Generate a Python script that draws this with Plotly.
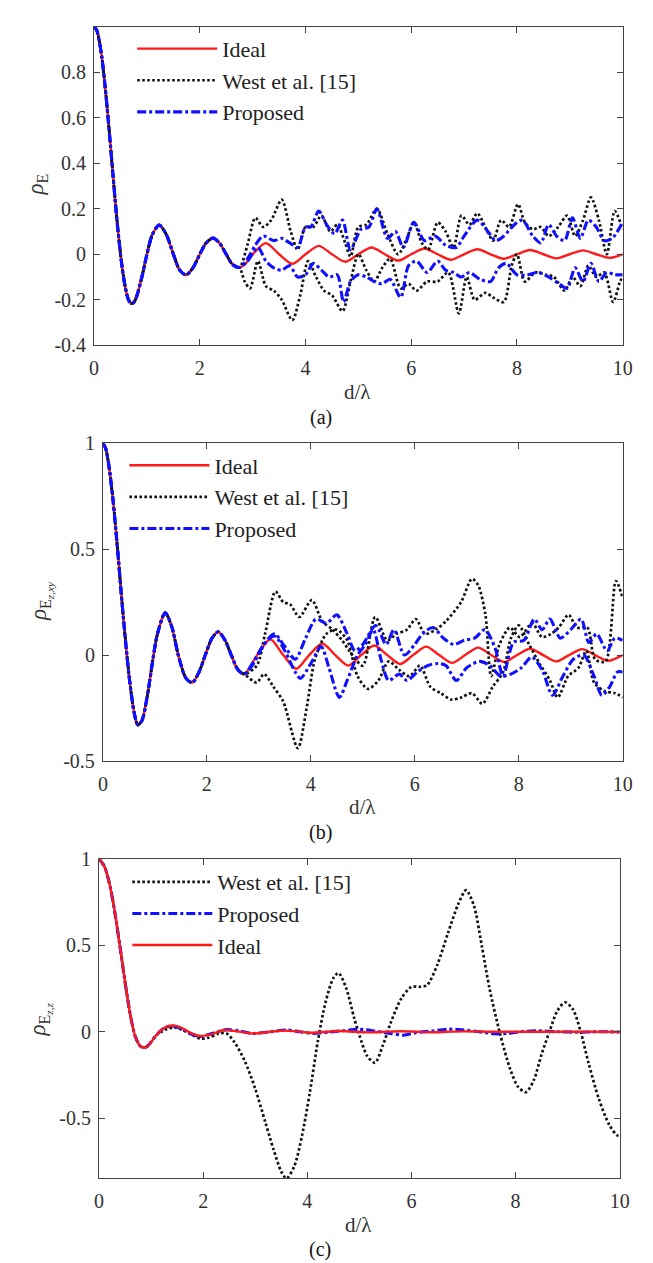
import plotly.graph_objects as go

# ---------------- Panel (a): rho_E ----------------
a_base_d = [0, 0.05, 0.1, 0.15, 0.2, 0.25, 0.3, 0.35, 0.4, 0.45, 0.5, 0.55, 0.6, 0.65, 0.7, 0.75, 0.8, 0.9,
            1.0, 1.1, 1.23, 1.36, 1.5, 1.62, 1.74, 1.87, 2.0, 2.12, 2.25, 2.37, 2.5, 2.62, 2.75]
a_base_r = [1.0, 0.985, 0.935, 0.86, 0.757, 0.637, 0.505, 0.368, 0.234, 0.109, 0.0, -0.09, -0.156, -0.2, -0.216,
            -0.212, -0.189, -0.104, 0.0, 0.085, 0.128, 0.09, 0.0, -0.07, -0.091, -0.06, 0.0, 0.05, 0.071, 0.05,
            0.0, -0.045, -0.058]

a_ideal_d = [2.87, 3.0, 3.25, 3.5, 3.75, 4.0, 4.25, 4.5, 4.75, 5.0, 5.25, 5.5, 5.75, 6.0, 6.25, 6.5, 6.75, 7.0,
             7.25, 7.5, 7.75, 8.0, 8.25, 8.5, 8.75, 9.0, 9.25, 9.5, 9.75, 10.0]
a_ideal_r = [-0.04, 0.0, 0.049, 0.0, -0.042, 0.0, 0.037, 0.0, -0.033, 0.0, 0.03, 0.0, -0.028, 0.0, 0.025, 0.0,
             -0.024, 0.0, 0.022, 0.0, -0.02, 0.0, 0.019, 0.0, -0.018, 0.0, 0.017, 0.0, -0.016, 0.0]

a_west1_d = [2.9, 3.05, 3.2, 3.35, 3.55, 3.72, 3.85, 4.0, 4.15, 4.3, 4.47, 4.6, 4.75, 4.85, 5.0, 5.15, 5.35, 5.55,
             5.75, 5.9, 6.05, 6.2, 6.32, 6.5, 6.65, 6.8, 6.95, 7.1, 7.25, 7.4, 7.55, 7.7, 7.85, 8.02, 8.15, 8.3,
             8.45, 8.6, 8.78, 8.95, 9.1, 9.25, 9.4, 9.55, 9.7, 9.85, 10.0]
a_west1_r = [0.04, 0.16, 0.12, 0.15, 0.24, 0.1, 0.02, 0.12, 0.12, 0.17, 0.1, 0.13, 0.05, -0.01, 0.12, 0.13, 0.2,
             0.09, 0.0, 0.06, 0.14, 0.05, 0.02, 0.14, 0.1, 0.03, 0.17, 0.13, 0.18, 0.12, 0.06, 0.15, 0.12, 0.22,
             0.14, 0.11, 0.12, 0.08, 0.12, 0.17, 0.08, 0.15, 0.25, 0.15, 0.0, 0.19, 0.11]

a_west2_d = [2.85, 2.95, 3.1, 3.25, 3.4, 3.55, 3.75, 3.9, 4.05, 4.2, 4.35, 4.5, 4.7, 4.85, 5.0, 5.15, 5.3, 5.45,
             5.6, 5.8, 5.95, 6.1, 6.3, 6.5, 6.7, 6.9, 7.05, 7.2, 7.4, 7.55, 7.75, 7.9, 8.0, 8.15, 8.35, 8.55,
             8.7, 8.9, 9.05, 9.2, 9.35, 9.5, 9.65, 9.82, 9.95, 10.0]
a_west2_r = [-0.12, -0.15, -0.03, -0.14, -0.16, -0.2, -0.29, -0.18, -0.03, -0.1, -0.16, -0.18, -0.25, -0.12,
             0.0, -0.07, -0.12, -0.06, -0.02, -0.15, -0.13, -0.16, -0.12, -0.12, -0.08, -0.26, -0.1, -0.2,
             -0.17, -0.19, -0.21, -0.05, 0.0, -0.12, -0.08, -0.09, -0.1, -0.16, -0.1, -0.14, -0.05, -0.1,
             -0.08, -0.21, -0.12, -0.1]

a_prop1_d = [2.9, 3.05, 3.2, 3.4, 3.55, 3.7, 3.85, 4.0, 4.1, 4.25, 4.4, 4.55, 4.7, 4.85, 5.05, 5.2, 5.35, 5.55,
             5.7, 5.85, 6.05, 6.25, 6.45, 6.65, 6.85, 7.0, 7.25, 7.45, 7.6, 7.75, 7.95, 8.1, 8.3, 8.45, 8.6,
             8.75, 8.9, 9.05, 9.2, 9.35, 9.5, 9.65, 9.8, 10.0]
a_prop1_r = [-0.02, 0.04, 0.08, 0.06, 0.07, 0.05, 0.03, 0.12, 0.12, 0.19, 0.13, 0.09, 0.15, 0.02, 0.11, 0.12,
             0.2, 0.07, 0.1, 0.03, 0.14, 0.06, 0.08, 0.04, 0.03, 0.08, 0.15, 0.1, 0.06, 0.08, 0.13, 0.15, 0.08,
             0.05, 0.13, 0.08, 0.06, 0.16, 0.07, 0.15, 0.12, 0.06, 0.07, 0.14]

a_prop2_d = [2.9, 3.1, 3.25, 3.4, 3.55, 3.7, 3.85, 4.0, 4.15, 4.3, 4.45, 4.6, 4.72, 4.85, 5.0, 5.15, 5.3, 5.45,
             5.6, 5.8, 5.95, 6.1, 6.3, 6.5, 6.65, 6.8, 6.95, 7.1, 7.3, 7.5, 7.65, 7.8, 8.0, 8.2, 8.4, 8.6, 8.8,
             8.95, 9.1, 9.25, 9.4, 9.55, 9.7, 9.85, 10.0]
a_prop2_r = [-0.03, 0.03, -0.03, -0.06, -0.07, -0.05, -0.1, -0.09, -0.04, -0.07, -0.1, -0.09, -0.21, -0.12,
             -0.09, -0.1, -0.12, -0.13, -0.11, -0.19, -0.05, -0.03, -0.08, -0.03, -0.07, -0.08, -0.1, -0.08,
             -0.11, -0.12, -0.06, -0.04, -0.09, -0.09, -0.08, -0.1, -0.13, -0.15, -0.06, -0.12, -0.04, -0.12,
             -0.08, -0.09, -0.09]

# ---------------- Panel (b): rho_{E_z,xy} ----------------
b_base_d = [0, 0.05, 0.1, 0.15, 0.2, 0.25, 0.3, 0.35, 0.4, 0.45, 0.5, 0.55, 0.6, 0.67, 0.75, 0.85, 0.95, 1.05,
            1.2, 1.33, 1.45, 1.6, 1.72, 1.85, 1.97, 2.1, 2.22, 2.35, 2.47, 2.6, 2.72]
b_base_r = [1.0, 0.98, 0.92, 0.83, 0.72, 0.59, 0.45, 0.3, 0.16, 0.03, -0.09, -0.19, -0.27, -0.33, -0.31, -0.2,
            -0.04, 0.1, 0.2, 0.13, 0.0, -0.11, -0.13, -0.08, 0.0, 0.08, 0.11, 0.07, 0.0, -0.07, -0.09]

b_ideal_d = [2.97, 3.22, 3.47, 3.72, 3.97, 4.22, 4.47, 4.72, 4.97, 5.22, 5.47, 5.72, 5.97, 6.22, 6.47, 6.72,
             6.97, 7.22, 7.47, 7.72, 7.97, 8.22, 8.47, 8.72, 8.97, 9.22, 9.47, 9.72, 10.0]
b_ideal_r = [0.0, 0.075, 0.0, -0.065, 0.0, 0.055, 0.0, -0.05, 0.0, 0.045, 0.0, -0.042, 0.0, 0.04, 0.0, -0.037,
             0.0, 0.035, 0.0, -0.033, 0.0, 0.03, 0.0, -0.03, 0.0, 0.028, 0.0, -0.027, 0.0]

b_west1_d = [2.96, 3.12, 3.32, 3.47, 3.6, 3.78, 4.02, 4.22, 4.42, 4.6, 4.8, 5.0, 5.24, 5.47, 5.65, 5.85, 6.02,
             6.2, 6.4, 6.6, 6.89, 7.1, 7.22, 7.36, 7.47, 7.63, 7.83, 8.02, 8.26, 8.45, 8.62, 8.77, 8.96, 9.12,
             9.32, 9.47, 9.67, 9.87, 10.0]
b_west1_r = [-0.05, 0.1, 0.3, 0.25, 0.24, 0.18, 0.26, 0.16, 0.12, 0.07, 0.0, -0.05, 0.18, 0.07, 0.1, 0.12, 0.17,
             0.1, 0.12, 0.16, 0.25, 0.36, 0.33, 0.19, -0.1, 0.05, 0.13, 0.085, 0.15, 0.085, 0.1, 0.13, 0.19,
             0.13, 0.13, -0.02, -0.03, 0.35, 0.27]

b_west2_d = [2.96, 3.1, 3.28, 3.47, 3.75, 3.92, 4.08, 4.3, 4.5, 4.7, 4.9, 5.1, 5.3, 5.5, 5.7, 5.9, 6.1, 6.3, 6.5,
             6.7, 6.9, 7.1, 7.3, 7.5, 7.7, 7.85, 8.0, 8.2, 8.4, 8.6, 8.75, 8.95, 9.15, 9.3, 9.45, 9.65, 9.85,
             10.0]
b_west2_r = [-0.13, -0.09, -0.15, -0.22, -0.44, -0.25, -0.02, 0.1, 0.12, 0.07, -0.1, -0.16, -0.12, -0.03,
             -0.07, -0.1, -0.05, -0.15, -0.18, -0.21, -0.2, -0.18, -0.23, -0.15, -0.08, 0.08, 0.14, 0.05, -0.04,
             -0.12, -0.2, -0.1, -0.06, 0.02, -0.13, -0.17, -0.18, -0.2]

b_prop1_d = [2.9, 3.1, 3.3, 3.5, 3.7, 3.9, 4.1, 4.3, 4.5, 4.7, 4.85, 5.0, 5.25, 5.45, 5.6, 5.8, 6.0, 6.15, 6.35,
             6.55, 6.75, 6.95, 7.15, 7.35, 7.55, 7.7, 7.9, 8.1, 8.3, 8.45, 8.6, 8.8, 9.0, 9.2, 9.35, 9.5, 9.7,
             9.85, 10.0]
b_prop1_r = [-0.04, 0.05, 0.1, 0.04, -0.02, 0.08, 0.17, 0.15, 0.19, 0.1, 0.02, 0.05, 0.14, 0.05, 0.12, 0.0,
             0.05, 0.1, 0.13, 0.08, 0.05, 0.07, 0.08, 0.12, 0.03, -0.1, 0.06, 0.07, 0.17, 0.12, 0.17, 0.08,
             0.12, 0.17, 0.06, 0.1, 0.02, 0.08, 0.07]

b_prop2_d = [2.9, 3.1, 3.3, 3.5, 3.7, 3.8, 4.0, 4.2, 4.35, 4.55, 4.7, 4.9, 5.05, 5.2, 5.35, 5.5, 5.7, 5.85, 6.05,
             6.25, 6.45, 6.6, 6.8, 7.0, 7.25, 7.45, 7.65, 7.85, 8.05, 8.25, 8.45, 8.65, 8.85, 9.05, 9.25, 9.45,
             9.6, 9.75, 9.9, 10.0]
b_prop2_r = [-0.03, 0.05, 0.09, 0.02, -0.08, -0.11, -0.04, 0.04, -0.06, -0.2, -0.12, 0.0, 0.05, 0.12, -0.02,
             -0.12, -0.09, -0.12, -0.08, -0.05, -0.04, -0.05, -0.12, -0.06, -0.03, -0.05, -0.1, -0.09, -0.06,
             -0.01, -0.07, -0.19, -0.1, -0.02, 0.0, -0.1, -0.19, -0.15, -0.08, -0.08]

# ---------------- Panel (c): rho_{E_z,z} ----------------
c_base_d = [0, 0.1, 0.2, 0.3, 0.4, 0.5, 0.6, 0.7, 0.8, 0.9, 1.0, 1.1]
c_base_r = [1.0, 0.96, 0.86, 0.7, 0.5, 0.29, 0.1, -0.03, -0.085, -0.09, -0.06, -0.02]

c_ideal_d = [1.2, 1.3, 1.45, 1.6, 1.75, 1.95, 2.15, 2.4, 2.65, 2.95, 3.25, 3.5, 3.8, 4.05, 4.3, 4.6, 4.9, 5.2,
             5.5, 5.8, 6.1, 6.4, 6.7, 7.0, 7.5, 8.0, 8.5, 9.0, 9.5, 10.0]
c_ideal_r = [0.01, 0.03, 0.035, 0.02, -0.005, -0.025, -0.015, 0.01, 0.002, -0.01, -0.002, 0.006, 0.002, -0.006,
             -0.002, 0.004, 0.0, -0.004, 0.0, 0.003, 0.0, -0.003, 0.0, 0.002, 0.0, 0.0, 0.0, 0.0, 0.0, -0.002]

c_prop_d = [1.2, 1.3, 1.45, 1.6, 1.75, 1.95, 2.15, 2.45, 2.7, 2.95, 3.3, 3.6, 3.85, 4.1, 4.4, 4.7, 5.0, 5.3,
            5.6, 5.85, 6.1, 6.4, 6.7, 7.0, 7.3, 7.6, 7.85, 8.1, 8.4, 8.8, 9.2, 9.6, 10.0]
c_prop_r = [0.01, 0.028, 0.032, 0.015, -0.01, -0.028, -0.012, 0.012, 0.004, -0.01, 0.0, 0.01, 0.0, -0.01,
            -0.002, 0.006, 0.014, 0.004, -0.01, -0.02, -0.005, 0.004, 0.015, 0.01, 0.0, -0.012, -0.01, 0.0,
            0.005, 0.0, -0.003, 0.0, -0.002]

c_west_d = [1.2, 1.3, 1.45, 1.6, 1.8, 1.95, 2.1, 2.3, 2.45, 2.6, 2.8, 3.0, 3.2, 3.35, 3.5, 3.6, 3.75, 3.9,
            4.05, 4.2, 4.35, 4.5, 4.6, 4.75, 4.9, 5.0, 5.15, 5.3, 5.45, 5.6, 5.8, 6.0, 6.15, 6.3, 6.5, 6.7,
            6.9, 7.05, 7.2, 7.35, 7.5, 7.7, 7.9, 8.05, 8.2, 8.35, 8.5, 8.65, 8.8, 8.95, 9.1, 9.25, 9.4, 9.6,
            9.8, 9.95, 10.0]
c_west_r = [0.0, 0.015, 0.025, 0.01, -0.02, -0.04, -0.035, -0.01, -0.01, -0.06, -0.17, -0.33, -0.53, -0.68,
            -0.81, -0.85, -0.78, -0.6, -0.35, -0.06, 0.17, 0.31, 0.34, 0.25, 0.08, -0.02, -0.14, -0.18, -0.08,
            0.05, 0.19, 0.26, 0.26, 0.27, 0.39, 0.57, 0.74, 0.82, 0.73, 0.5, 0.25, -0.01, -0.22, -0.32, -0.35,
            -0.28, -0.13, 0.0, 0.12, 0.17, 0.13, 0.0, -0.18, -0.39, -0.54, -0.6, -0.6]

x_tickvals = [0, 2, 4, 6, 8, 10]
x_ticktext = ["0", "2", "4", "6", "8", "10"]
a_tickvals = [-0.4, -0.2, 0, 0.2, 0.4, 0.6, 0.8]
a_ticktext = ["-0.4", "-0.2", "0", "0.2", "0.4", "0.6", "0.8"]
bc_tickvals = [-0.5, 0, 0.5, 1]
bc_ticktext = ["-0.5", "0", "0.5", "1"]

x_title = "d/λ"
a_ytitle = "<i>ρ</i><sub>E</sub>"
b_ytitle = "<i>ρ</i><sub>E<sub><i>z,xy</i></sub></sub>"
c_ytitle = "<i>ρ</i><sub>E<sub><i>z,z</i></sub></sub>"
panel_labels = ["(a)", "(b)", "(c)"]

RED = "#ff1a1a"
BLACK = "#111111"
BLUE = "#1010ff"
FONT = "Liberation Serif"
AX = "#444444"
TXT = "#333333"

red_line = dict(color=RED, width=2.4)
black_line = dict(color=BLACK, width=2.7, dash="2.6px,2.4px")
blue_line = dict(color=BLUE, width=3.1, dash="9px,3px,3px,3px")

fig = go.Figure()


def add(xa, ya, d, r, name, line, legend, show, group):
    fig.add_trace(go.Scatter(x=d, y=r, mode="lines", name=name, line=dict(**line, shape="spline", smoothing=0.8),
                             xaxis=xa, yaxis=ya, legend=legend, showlegend=show, legendgroup=group))


# panel a (order: ideal, west, proposed)
add("x", "y", a_base_d + a_ideal_d, a_base_r + a_ideal_r, "Ideal", red_line, "legend", True, "a1")
add("x", "y", a_base_d + a_west1_d, a_base_r + a_west1_r, "West et al. [15]", black_line, "legend", True, "a2")
add("x", "y", a_base_d + a_west2_d, a_base_r + a_west2_r, "West et al. [15]", black_line, "legend", False, "a2")
add("x", "y", a_base_d + a_prop1_d, a_base_r + a_prop1_r, "Proposed", blue_line, "legend", True, "a3")
add("x", "y", a_base_d + a_prop2_d, a_base_r + a_prop2_r, "Proposed", blue_line, "legend", False, "a3")

# panel b
add("x2", "y2", b_base_d + b_ideal_d, b_base_r + b_ideal_r, "Ideal", red_line, "legend2", True, "b1")
add("x2", "y2", b_base_d + b_west1_d, b_base_r + b_west1_r, "West et al. [15]", black_line, "legend2", True, "b2")
add("x2", "y2", b_base_d + b_west2_d, b_base_r + b_west2_r, "West et al. [15]", black_line, "legend2", False, "b2")
add("x2", "y2", b_base_d + b_prop1_d, b_base_r + b_prop1_r, "Proposed", blue_line, "legend2", True, "b3")
add("x2", "y2", b_base_d + b_prop2_d, b_base_r + b_prop2_r, "Proposed", blue_line, "legend2", False, "b3")

# panel c (order: west, proposed, ideal)
add("x3", "y3", c_base_d + c_west_d, c_base_r + c_west_r, "West et al. [15]", black_line, "legend3", True, "c1")
add("x3", "y3", c_base_d + c_prop_d, c_base_r + c_prop_r, "Proposed", blue_line, "legend3", True, "c2")
add("x3", "y3", c_base_d + c_ideal_d, c_base_r + c_ideal_r, "Ideal", red_line, "legend3", True, "c3")

W, H = 653, 1263


def px(v):
    return v / W


def py(v):
    return 1 - v / H


def xaxis(dom, anchor):
    return dict(domain=dom, anchor=anchor, range=[0, 10], tickvals=x_tickvals, ticktext=x_ticktext,
                ticks="inside", ticklen=6, tickcolor=AX, showline=True, linecolor=AX, linewidth=1,
                mirror="allticks", showgrid=False, zeroline=False, ticklabelstandoff=5,
                tickfont=dict(family=FONT, size=20, color=TXT))


def yaxis(dom, anchor, rng, tv, tt):
    return dict(domain=dom, anchor=anchor, range=rng, tickvals=tv, ticktext=tt,
                ticks="inside", ticklen=6, tickcolor=AX, showline=True, linecolor=AX, linewidth=1,
                mirror="allticks", showgrid=False, zeroline=False, ticklabelstandoff=3,
                tickfont=dict(family=FONT, size=20, color=TXT))


def legend(x, y):
    return dict(x=x, y=y, xanchor="left", yanchor="top", bgcolor="rgba(0,0,0,0)", borderwidth=0,
                font=dict(family=FONT, size=22, color="#222222"), tracegroupgap=0, itemwidth=80)


def ann(text, x, y, size, angle=0, color=TXT):
    return dict(text=text, x=px(x), y=py(y), xref="paper", yref="paper", showarrow=False,
                xanchor="center", yanchor="middle", textangle=angle,
                font=dict(family=FONT, size=size, color=color))


annotations = [
    ann(x_title, 353, 380, 21), ann(x_title, 358, 802, 21), ann(x_title, 354, 1227, 21),
    ann(panel_labels[0], 315, 406, 20, color="#111111"),
    ann(panel_labels[1], 315, 828, 20, color="#111111"),
    ann(panel_labels[2], 314, 1252, 20, color="#111111"),
    ann(a_ytitle, 25, 168, 23, -90), ann(b_ytitle, 28, 593, 23, -90), ann(c_ytitle, 28, 1018, 23, -90),
]

fig.update_layout(
    width=W, height=H, margin=dict(l=0, r=0, t=0, b=0),
    paper_bgcolor="white", plot_bgcolor="white",
    xaxis=xaxis([px(83), px(624)], "y"),
    yaxis=yaxis([py(332), py(8)], "x", [-0.4, 1.0], a_tickvals, a_ticktext),
    xaxis2=xaxis([px(92), px(624)], "y2"),
    yaxis2=yaxis([py(755), py(432)], "x2", [-0.5, 1.0], bc_tickvals, bc_ticktext),
    xaxis3=xaxis([px(88), px(621)], "y3"),
    yaxis3=yaxis([py(1180), py(855)], "x3", [-0.85, 1.0], bc_tickvals, bc_ticktext),
    legend=legend(px(122), py(9)),
    legend2=legend(px(114), py(433)),
    legend3=legend(px(117), py(857)),
    annotations=annotations,
)

fig.write_html("out.html")
